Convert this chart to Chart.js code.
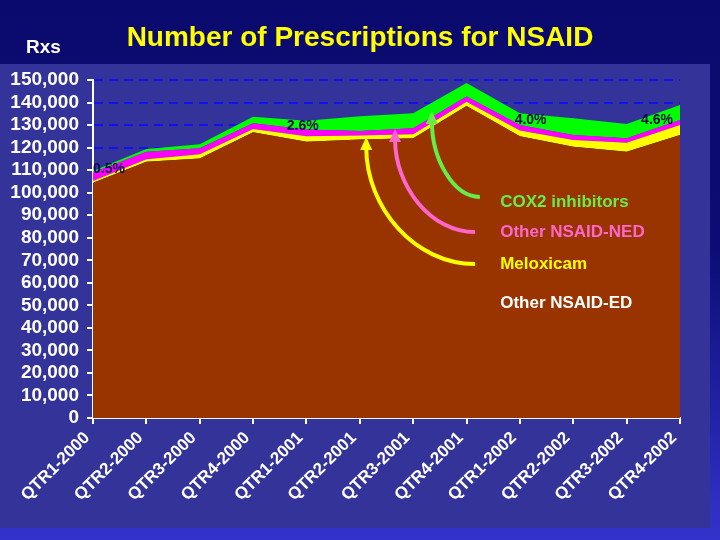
<!DOCTYPE html>
<html>
<head>
<meta charset="utf-8">
<script src="https://cdn.jsdelivr.net/npm/chart.js@4.4.0/dist/chart.umd.min.js"></script>
<style>
  html, body { margin: 0; padding: 0; background: #0a0a6e; }
  canvas { display: block; }
</style>
</head>
<body>
<canvas id="nsaid-chart" width="720" height="540"></canvas>
<script>
const quarters = [
  "QTR1-2000", "QTR2-2000", "QTR3-2000", "QTR4-2000",
  "QTR1-2001", "QTR2-2001", "QTR3-2001", "QTR4-2001",
  "QTR1-2002", "QTR2-2002", "QTR3-2002", "QTR4-2002",
];
const otherNsaidEd = [104400, 113700, 115200, 126800, 122600, 123600, 124100, 138500, 125000, 120400, 118200, 125600];
const meloxicam = [800, 1100, 1800, 1500, 2400, 1800, 1800, 1900, 2600, 3000, 4000, 4400];
const otherNsaidNed = [3700, 3400, 2700, 2500, 3000, 2000, 2700, 2300, 2400, 2200, 1900, 2200];
const cox2 = [700, 1200, 1800, 2900, 3900, 6500, 6600, 6000, 5200, 7400, 6400, 6700];
const shareLabels = ["0.5%", "2.6%", "4.0%", "4.6%"];

const FONT = "'Liberation Sans', Arial, sans-serif";

// backdrop, title and the hand drawn notes
const decor = {
  id: "decor",
  beforeDraw(chart) {
    const c = chart.ctx;
    c.save();
    const g = c.createLinearGradient(0, 0, 0, 540);
    g.addColorStop(0, "#0a0a6e");
    g.addColorStop(0.45, "#0c0c74");
    g.addColorStop(1, "#3333cc");
    c.fillStyle = g;
    c.fillRect(0, 0, 720, 540);
    c.fillStyle = "#333399";
    c.fillRect(0, 64, 710, 464);

    c.fillStyle = "#ffff00";
    c.font = "bold 28px " + FONT;
    c.textAlign = "center";
    c.textBaseline = "alphabetic";
    c.fillText("Number of Prescriptions for NSAID", 360, 46);
    c.fillStyle = "#ffffff";
    c.font = "bold 19px " + FONT;
    c.textAlign = "left";
    c.fillText("Rxs", 26, 53);
    c.restore();
  },
  afterDatasetsDraw(chart) {
    const c = chart.ctx;
    const x = chart.scales.x, y = chart.scales.y;
    const px = (i) => x.getPixelForValue(i);
    const py = (v) => y.getPixelForValue(v);
    c.save();

    // share labels
    c.fillStyle = "#0a0a50";
    c.font = "bold 14px " + FONT;
    c.textAlign = "center";
    const spots = [[0.3, 108700], [3.93, 127800], [8.2, 130500], [10.57, 130500]];
    shareLabels.forEach((t, k) => c.fillText(t, px(spots[k][0]), py(spots[k][1])));

    // arrows
    const arrows = [
      { col: "#66ee44", sx: 7.25, sy: 98100, tx: 6.35, ty: 135400 },
      { col: "#ff66cc", sx: 7.16, sy: 82500, tx: 5.66, ty: 127400 },
      { col: "#ffff00", sx: 7.16, sy: 68300, tx: 5.12, ty: 123800 },
    ];
    arrows.forEach((a) => {
      const sx = px(a.sx), sy = py(a.sy), tx = px(a.tx), ty = py(a.ty);
      c.strokeStyle = a.col;
      c.fillStyle = a.col;
      c.lineWidth = 4;
      c.beginPath();
      c.moveTo(sx, sy);
      c.bezierCurveTo(sx - 0.552 * (sx - tx), sy, tx, ty + 0.552 * (sy - ty), tx, ty + 8);
      c.stroke();
      c.beginPath();
      c.moveTo(tx, ty - 2);
      c.lineTo(tx - 6, ty + 11);
      c.lineTo(tx + 6, ty + 11);
      c.closePath();
      c.fill();
    });

    // legend text
    c.font = "bold 17px " + FONT;
    c.textAlign = "left";
    const names = [
      ["COX2 inhibitors", "#66ee44", 93600],
      ["Other NSAID-NED", "#ff66cc", 80300],
      ["Meloxicam", "#ffff00", 66100],
      ["Other NSAID-ED", "#ffffff", 48800],
    ];
    names.forEach((n) => {
      c.fillStyle = n[1];
      c.fillText(n[0], px(7.63), py(n[2]));
    });
    c.restore();
  },
};

const area = (label, data, color, fill) => ({
  label,
  data,
  backgroundColor: color,
  borderWidth: 0,
  pointRadius: 0,
  fill,
  tension: 0,
});

new Chart(document.getElementById("nsaid-chart"), {
  type: "line",
  data: {
    labels: quarters,
    datasets: [
      area("Other NSAID-ED", otherNsaidEd, "#993300", "origin"),
      area("Meloxicam", meloxicam, "#ffff00", "-1"),
      area("Other NSAID-NED", otherNsaidNed, "#ff00ff", "-1"),
      area("COX2 inhibitors", cox2, "#00ff00", "-1"),
    ],
  },
  options: {
    responsive: false,
    animation: false,
    devicePixelRatio: 1,
    layout: { padding: { top: 80, right: 40, left: 0, bottom: 0 } },
    plugins: {
      legend: { display: false },
      title: { display: false },
      tooltip: { enabled: false },
    },
    scales: {
      x: {
        offset: false,
        grid: { drawOnChartArea: false, color: "#ffffff", tickColor: "#ffffff", tickLength: 6, lineWidth: 2 },
        border: { color: "#ffffff", width: 2 },
        ticks: {
          color: "#ffffff",
          font: { family: FONT, size: 17, weight: "bold" },
          minRotation: 45,
          maxRotation: 45,
          autoSkip: false,
          padding: 4,
          labelOffset: -6,
        },
        afterFit(s) { s.height = 122; },
      },
      y: {
        stacked: true,
        min: 0,
        max: 150000,
        grid: { color: "#1010f0", lineWidth: 2, tickColor: "#ffffff", tickLength: 6, tickBorderDash: [] },
        border: { color: "#ffffff", width: 2, dash: [9, 6] },
        ticks: {
          stepSize: 10000,
          autoSkip: false,
          color: "#ffffff",
          font: { family: FONT, size: 19, weight: "bold" },
          padding: 8,
          callback: (v) => v.toLocaleString("en-US"),
        },
        afterFit(s) { s.width = 93; },
      },
    },
  },
  plugins: [decor],
});
</script>
</body>
</html>
